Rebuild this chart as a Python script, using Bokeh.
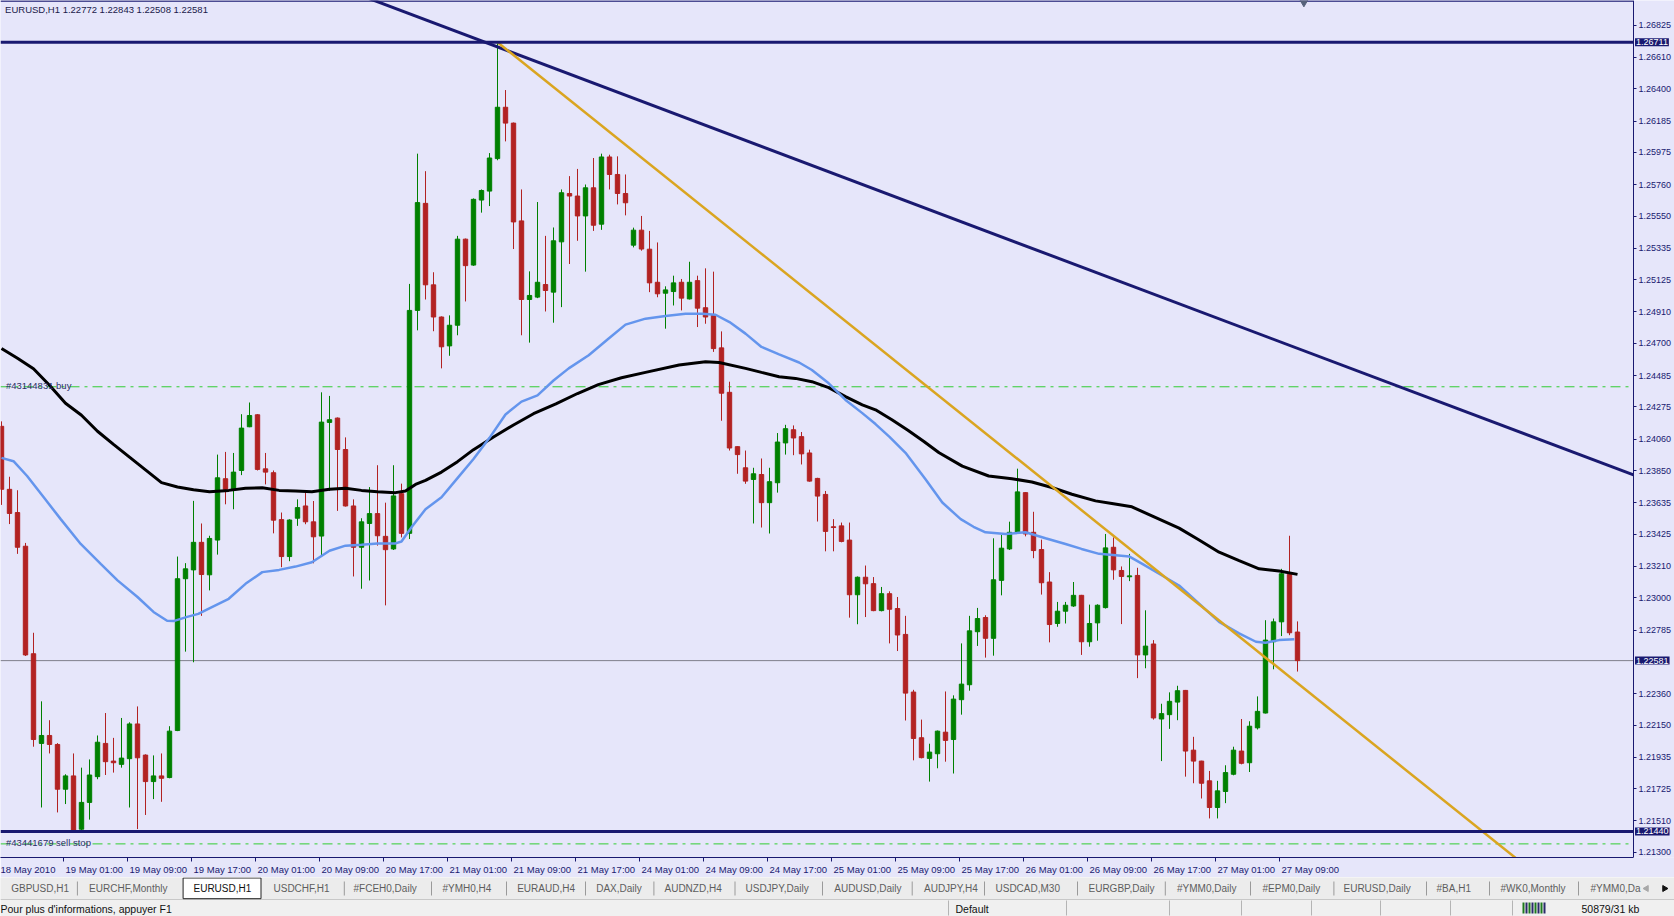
import math
from bokeh.plotting import figure
from bokeh.models import (Range1d, FixedTicker, NumeralTickFormatter, CustomJSTickFormatter,
                          Label, ColumnDataSource)
from bokeh.layouts import column
from bokeh.embed import file_html
from bokeh.resources import INLINE
from bokeh.core.properties import value

# ---------------- data ----------------
SYMBOL = "EURUSD,H1"

opens = [
    1.24146, 1.23725, 1.23570, 1.23345, 1.22627, 1.22028, 1.22081, 1.22021, 1.21722, 1.21811,
    1.21455, 1.21634, 1.21806, 1.22028, 1.21910, 1.21888, 1.21926, 1.22158, 1.21950, 1.21773,
    1.21811, 1.21800, 1.22114, 1.23128, 1.23187, 1.23371, 1.23154, 1.23386, 1.23796, 1.23725,
    1.23851, 1.24143, 1.24223, 1.23862, 1.23836, 1.23523, 1.23276, 1.23532, 1.23614, 1.23508,
    1.23413, 1.24172, 1.24201, 1.23991, 1.23614, 1.23338, 1.23497, 1.23563, 1.23411, 1.23327,
    1.23696, 1.23431, 1.24920, 1.25635, 1.25091, 1.24876, 1.24683, 1.24821, 1.25396, 1.25223,
    1.25657, 1.25717, 1.25934, 1.26277, 1.26171, 1.25518, 1.24993, 1.25009, 1.25093, 1.25042,
    1.25378, 1.25701, 1.25684, 1.25551, 1.25739, 1.25496, 1.25945, 1.25828, 1.25701, 1.25356,
    1.25456, 1.25329, 1.25108, 1.25035, 1.25046, 1.25108, 1.24997, 1.25119, 1.24938, 1.24887,
    1.24670, 1.24373, 1.24010, 1.23869, 1.23791, 1.23824, 1.23636, 1.23769, 1.24035, 1.24123,
    1.24077, 1.23968, 1.23798, 1.23691, 1.23475, 1.23481, 1.23386, 1.23021, 1.23138, 1.23095,
    1.22915, 1.23028, 1.22929, 1.22756, 1.22371, 1.22066, 1.21928, 1.21959, 1.22103, 1.22054,
    1.22320, 1.22420, 1.22774, 1.22869, 1.22730, 1.23117, 1.23327, 1.23438, 1.23703, 1.23438,
    1.23323, 1.23106, 1.22829, 1.22911, 1.22946, 1.23017, 1.22707, 1.22833, 1.22935, 1.23338,
    1.23183, 1.23141, 1.23150, 1.22619, 1.22692, 1.22191, 1.22220, 1.22304, 1.22382, 1.21983,
    1.21910, 1.21778, 1.21600, 1.21707, 1.21822, 1.21977, 1.21899, 1.22132, 1.22231, 1.22707,
    1.22840, 1.23157, 1.22772]

highs = [
    1.24179, 1.23809, 1.23719, 1.23367, 1.22767, 1.22309, 1.22183, 1.22030, 1.21822, 1.21961,
    1.21866, 1.21921, 1.22081, 1.22231, 1.22065, 1.22198, 1.22169, 1.22275, 1.21955, 1.21948,
    1.21961, 1.22143, 1.23276, 1.23232, 1.23648, 1.23497, 1.23415, 1.23957, 1.23975, 1.23968,
    1.24227, 1.24305, 1.24227, 1.23968, 1.23851, 1.23570, 1.23525, 1.23658, 1.23703, 1.23647,
    1.24373, 1.24349, 1.24205, 1.24072, 1.23658, 1.23532, 1.23740, 1.23886, 1.23636, 1.23886,
    1.23763, 1.25097, 1.25967, 1.25850, 1.25175, 1.24880, 1.24887, 1.25418, 1.25400, 1.25668,
    1.25728, 1.25971, 1.26711, 1.26392, 1.26175, 1.25728, 1.25181, 1.25644, 1.25418, 1.25474,
    1.25728, 1.25817, 1.25865, 1.25761, 1.25938, 1.25967, 1.25960, 1.25949, 1.25828, 1.25473,
    1.25551, 1.25451, 1.25374, 1.25081, 1.25152, 1.25130, 1.25245, 1.25152, 1.25201, 1.25179,
    1.24780, 1.24444, 1.24012, 1.23984, 1.23869, 1.23931, 1.23869, 1.24101, 1.24156, 1.24152,
    1.24108, 1.23990, 1.23802, 1.23714, 1.23526, 1.23503, 1.23503, 1.23143, 1.23216, 1.23139,
    1.23073, 1.23044, 1.23006, 1.22880, 1.22386, 1.22187, 1.22026, 1.22114, 1.22375, 1.22349,
    1.22696, 1.22880, 1.22933, 1.22884, 1.23398, 1.23420, 1.23509, 1.23863, 1.23706, 1.23575,
    1.23389, 1.23172, 1.22973, 1.22973, 1.23106, 1.23020, 1.22955, 1.22957, 1.23427, 1.23404,
    1.23210, 1.23294, 1.23201, 1.22917, 1.22718, 1.22293, 1.22369, 1.22413, 1.22385, 1.22072,
    1.21912, 1.21844, 1.21778, 1.21882, 1.22006, 1.22191, 1.22176, 1.22342, 1.22851, 1.22862,
    1.23194, 1.23415, 1.22843]

lows = [
    1.23621, 1.23493, 1.23294, 1.22612, 1.22006, 1.21600, 1.21961, 1.21567, 1.21623, 1.21440,
    1.21445, 1.21519, 1.21789, 1.21817, 1.21833, 1.21866, 1.21600, 1.21456, 1.21550, 1.21656,
    1.21638, 1.21795, 1.22110, 1.22641, 1.22570, 1.22880, 1.23050, 1.23289, 1.23625, 1.23592,
    1.23820, 1.24140, 1.23851, 1.23758, 1.23431, 1.23205, 1.23245, 1.23481, 1.23492, 1.23231,
    1.23282, 1.23714, 1.23581, 1.23610, 1.23143, 1.23061, 1.23116, 1.23349, 1.22950, 1.23320,
    1.23404, 1.23393, 1.24787, 1.24993, 1.24781, 1.24533, 1.24617, 1.24754, 1.24980, 1.25218,
    1.25573, 1.25617, 1.25923, 1.26049, 1.25330, 1.24754, 1.24705, 1.25002, 1.24913, 1.24838,
    1.24942, 1.25230, 1.25385, 1.25179, 1.25451, 1.25458, 1.25728, 1.25628, 1.25555, 1.25341,
    1.25319, 1.25042, 1.25008, 1.24798, 1.24953, 1.24920, 1.24993, 1.24809, 1.24831, 1.24643,
    1.24183, 1.23984, 1.23829, 1.23762, 1.23497, 1.23470, 1.23430, 1.23703, 1.23957, 1.23953,
    1.23891, 1.23776, 1.23510, 1.23311, 1.23311, 1.23371, 1.22868, 1.22824, 1.22872, 1.22911,
    1.22910, 1.22696, 1.22645, 1.22181, 1.21915, 1.21928, 1.21773, 1.21862, 1.21906, 1.21827,
    1.22220, 1.22380, 1.22679, 1.22601, 1.22614, 1.23017, 1.23320, 1.23427, 1.23411, 1.23265,
    1.23022, 1.22703, 1.22807, 1.22829, 1.22940, 1.22619, 1.22674, 1.22714, 1.22929, 1.23121,
    1.22825, 1.23112, 1.22464, 1.22530, 1.22187, 1.21910, 1.22125, 1.22183, 1.21806, 1.21762,
    1.21660, 1.21527, 1.21527, 1.21629, 1.21815, 1.21888, 1.21837, 1.22121, 1.22228, 1.22523,
    1.22745, 1.22751, 1.22508]

closes = [
    1.23725, 1.23564, 1.23338, 1.22619, 1.22054, 1.22081, 1.22021, 1.21722, 1.21811, 1.21450,
    1.21634, 1.21817, 1.22036, 1.21906, 1.21899, 1.21930, 1.22158, 1.21932, 1.21773, 1.21811,
    1.21795, 1.22110, 1.23128, 1.23194, 1.23371, 1.23156, 1.23397, 1.23802, 1.23725, 1.23840,
    1.24134, 1.24218, 1.23858, 1.23840, 1.23519, 1.23276, 1.23520, 1.23603, 1.23508, 1.23408,
    1.24174, 1.24190, 1.23991, 1.23614, 1.23338, 1.23508, 1.23563, 1.23415, 1.23322, 1.23681,
    1.23431, 1.24920, 1.25640, 1.25091, 1.24876, 1.24677, 1.24821, 1.25396, 1.25219, 1.25662,
    1.25721, 1.25938, 1.26277, 1.26171, 1.25511, 1.24993, 1.25020, 1.25108, 1.25053, 1.25385,
    1.25706, 1.25684, 1.25551, 1.25739, 1.25489, 1.25945, 1.25828, 1.25701, 1.25639, 1.25456,
    1.25330, 1.25104, 1.25031, 1.25057, 1.25104, 1.25002, 1.25108, 1.24935, 1.24876, 1.24665,
    1.24367, 1.24001, 1.23957, 1.23780, 1.23829, 1.23636, 1.23776, 1.24041, 1.24130, 1.24068,
    1.23962, 1.23780, 1.23680, 1.23444, 1.23470, 1.23377, 1.23021, 1.23138, 1.23094, 1.22915,
    1.23028, 1.22924, 1.22752, 1.22364, 1.22061, 1.21933, 1.21970, 1.22110, 1.22048, 1.22324,
    1.22424, 1.22780, 1.22862, 1.22730, 1.23121, 1.23332, 1.23438, 1.23708, 1.23427, 1.23316,
    1.23101, 1.22822, 1.22911, 1.22951, 1.23017, 1.22707, 1.22829, 1.22951, 1.23334, 1.23187,
    1.23143, 1.23147, 1.22619, 1.22678, 1.22198, 1.22227, 1.22309, 1.22380, 1.21977, 1.21910,
    1.21762, 1.21600, 1.21711, 1.21833, 1.21983, 1.21895, 1.22143, 1.22242, 1.22718, 1.22840,
    1.23161, 1.22767, 1.22581]

# moving averages (bar index, price)
ma_fast_bars = [0, 1.5, 3.2, 5.3, 7.4, 9.9, 12.4, 14.5, 17, 19, 20.7, 21.5, 23.2, 24.6, 26.3,
                28.4, 30.5, 32.6, 34.7, 36.75, 38.8, 41, 43, 45, 47, 49.25, 50, 51.3, 53, 55,
                57, 59, 61, 63, 65, 67, 69, 70.9, 73.4, 75.9, 78, 80.5, 83, 85.5, 87.6, 89.25,
                91, 93, 95, 97.2, 99.7, 101.3, 103.4, 105.5, 107.6, 109.25, 111, 113, 115.5,
                117.6, 119.9, 121.5, 123, 125.5, 128, 130.5, 133, 135, 137.2, 141, 142.6, 144.7,
                147.2, 149.7, 152.2, 154.7, 156.8, 158, 159.7, 161.6]
ma_fast_vals = [1.23935, 1.23913, 1.23814, 1.23670, 1.23526, 1.23360, 1.23227, 1.23117, 1.23006,
                1.22906, 1.22847, 1.22845, 1.22873, 1.22893, 1.22939, 1.22994, 1.23094, 1.23172,
                1.23187, 1.23209, 1.23238, 1.23315, 1.23349, 1.23355, 1.23364, 1.23364, 1.23377,
                1.23475, 1.23592, 1.23672, 1.23800, 1.23928, 1.24069, 1.24225, 1.24311, 1.24353,
                1.24452, 1.24533, 1.24621, 1.24732, 1.24825, 1.24865, 1.24882, 1.24898, 1.24898,
                1.24891, 1.24842, 1.24765, 1.24676, 1.24626, 1.24572, 1.24522, 1.24433, 1.24322,
                1.24234, 1.24161, 1.24075, 1.23969, 1.23792, 1.23637, 1.23526, 1.23475, 1.23438,
                1.23427, 1.23438, 1.23398, 1.23360, 1.23327, 1.23294, 1.23276, 1.23227, 1.23161,
                1.23083, 1.22962, 1.22840, 1.22763, 1.22707, 1.22701, 1.22718, 1.22723]

ma_slow_bars = [0, 2, 4, 6, 8, 10, 12, 14, 16, 18, 20, 22, 24, 26, 28.4, 30.5, 32.6, 34.7, 36.75,
                38.8, 41, 43, 45, 47, 49.25, 50.5, 51.75, 53, 55, 57, 59, 61.5, 64, 66.5, 69.3, 72,
                74.6, 77.5, 80.5, 84.7, 88, 89.7, 93, 95, 97.2, 99.25, 101.3, 103.4, 105.5, 107.6,
                109.25, 111.3, 113.3, 115.3, 117.2, 120.1, 123.4, 126.3, 128.8, 131.3, 133.8,
                136.75, 138.8, 141.3, 143.8, 147.2, 149.7, 152.2, 154.7, 157.2, 159.7, 162]
ma_slow_vals = [1.24666, 1.24600, 1.24530, 1.24420, 1.24300, 1.24220, 1.24113, 1.24025, 1.23940,
                1.23855, 1.23770, 1.23741, 1.23722, 1.23709, 1.23718, 1.23732, 1.23736, 1.23718,
                1.23714, 1.23709, 1.23725, 1.23732, 1.23718, 1.23709, 1.23703, 1.23714, 1.23758,
                1.23785, 1.23840, 1.23910, 1.23990, 1.24075, 1.24155, 1.24230, 1.24296, 1.24365,
                1.24424, 1.24470, 1.24506, 1.24555, 1.24577, 1.24572, 1.24533, 1.24506, 1.24477,
                1.24466, 1.24444, 1.24404, 1.24344, 1.24289, 1.24256, 1.24190, 1.24120, 1.24045,
                1.23969, 1.23880, 1.23814, 1.23796, 1.23774, 1.23737, 1.23692, 1.23648, 1.23630,
                1.23608, 1.23548, 1.23466, 1.23387, 1.23305, 1.23249, 1.23194, 1.23179, 1.23157]

# chart objects
hline_levels = [1.26711, 1.21440]
bid_price = 1.22581
order_levels = [1.24410, 1.21357]
order_labels = ["#43144831 buy", "#43441679 sell stop"]
navy_trend_bars = [46.6, 203.9]
navy_trend_prices = [1.26990, 1.23823]
gold_trend_bars = [62.0, 188.4]
gold_trend_prices = [1.26711, 1.21300]

time_label_bars = [0, 8, 16, 24, 32, 40, 48, 56, 64, 72, 80, 88, 96, 104, 112, 120, 128, 136, 144, 152, 160]
time_labels = ["18 May 2010", "19 May 01:00", "19 May 09:00", "19 May 17:00", "20 May 01:00",
               "20 May 09:00", "20 May 17:00", "21 May 01:00", "21 May 09:00", "21 May 17:00",
               "24 May 01:00", "24 May 09:00", "24 May 17:00", "25 May 01:00", "25 May 09:00",
               "25 May 17:00", "26 May 01:00", "26 May 09:00", "26 May 17:00", "27 May 01:00",
               "27 May 09:00"]
price_ticks = [1.26825, 1.26610, 1.26400, 1.26185, 1.25975, 1.25760, 1.25550, 1.25335, 1.25125,
               1.24910, 1.24700, 1.24485, 1.24275, 1.24060, 1.23850, 1.23635, 1.23425, 1.23210,
               1.23000, 1.22785, 1.22360, 1.22150, 1.21935, 1.21725, 1.21510, 1.21300]

tab_labels = ["GBPUSD,H1", "EURCHF,Monthly", "EURUSD,H1", "USDCHF,H1", "#FCEH0,Daily", "#YMH0,H4",
              "EURAUD,H4", "DAX,Daily", "AUDNZD,H4", "USDJPY,Daily", "AUDUSD,Daily", "AUDJPY,H4",
              "USDCAD,M30", "EURGBP,Daily", "#YMM0,Daily", "#EPM0,Daily", "EURUSD,Daily", "#BA,H1",
              "#WK0,Monthly", "#YMM0,Da"]
active_tab = 2
status_hint = "Pour plus d'informations, appuyer F1"
status_profile = "Default"
status_traffic = "50879/31 kb"

# ---------------- layout / style ----------------
W, H = 1674, 916
MAIN_H = 877
FONT = "Liberation Sans"
NAVY = "#191970"
BG = "#E6E6FA"
BULL, BEAR = "#008000", "#B22222"
X0, X1 = -0.125, 209.125      # full canvas width, 8 px per bar
EDGE = 204.0                  # chart edge where the price scale sits
Y0, Y1 = 1.21266, 1.26990

p = figure(width=W, height=MAIN_H, x_range=Range1d(X0, X1), y_range=Range1d(Y0, Y1),
           y_axis_location="right", toolbar_location=None, output_backend="svg",
           min_border_left=0, min_border_top=0, min_border_right=0, min_border_bottom=15,
           background_fill_color=BG, border_fill_color=BG, outline_line_color=None)
p.grid.visible = False

# price scale, drawn at the chart edge
ya = p.yaxis[0]
ya.fixed_location = EDGE
ya.ticker = FixedTicker(ticks=price_ticks)
ya.formatter = NumeralTickFormatter(format="0.00000")
ya.axis_line_color = NAVY
ya.major_tick_line_color = NAVY
ya.major_tick_out = 3
ya.major_tick_in = 0
ya.minor_tick_line_color = None
ya.major_label_standoff = 2
ya.major_label_text_font = FONT
ya.major_label_text_font_size = "9px"
ya.major_label_text_color = NAVY

# time scale (labels to the right of their tick marks, like the terminal)
xa = p.xaxis[0]
xa.bounds = (X0, EDGE)
label_pos = [b + (3.2 if k == 0 else 3.6) for k, b in enumerate(time_label_bars)]
xa.ticker = FixedTicker(ticks=label_pos, minor_ticks=[b - 0.2 for b in time_label_bars])
xa.formatter = CustomJSTickFormatter(args=dict(labels=time_labels),
                                     code="return labels[Math.floor(tick / 8)];")
xa.axis_line_color = NAVY
xa.major_tick_line_color = None
xa.major_tick_out = 0
xa.major_tick_in = 0
xa.minor_tick_line_color = NAVY
xa.minor_tick_out = 4
xa.minor_tick_in = 0
xa.major_label_standoff = 2
xa.major_label_text_font = FONT
xa.major_label_text_font_size = "9.5px"
xa.major_label_text_color = NAVY

# top border of the chart
p.line([X0, EDGE], [Y1 - 0.00004, Y1 - 0.00004], line_color=NAVY, line_width=1.5)

# horizontal levels drawn behind
n = len(opens)
xs = list(range(n))
p.line([X0, EDGE], [bid_price, bid_price], line_color="#7F7F8C", line_width=1)
for lvl in order_levels:
    p.line([X0, EDGE - 0.3], [lvl, lvl], line_color="#32CD32", line_width=1, line_dash="10 5 3 5")

# candles
src = ColumnDataSource(dict(
    x=xs, o=opens, h=highs, l=lows, c=closes,
    top=[max(a, b) for a, b in zip(opens, closes)],
    bot=[min(a, b) for a, b in zip(opens, closes)],
    col=[BULL if c >= o else BEAR for o, c in zip(opens, closes)]))
p.segment(x0="x", y0="h", x1="x", y1="l", source=src, line_color="col", line_width=1)
p.vbar(x="x", width=0.55, top="top", bottom="bot", source=src, fill_color="col", line_color="col",
       line_width=1)

# moving averages
p.line(ma_slow_bars, ma_slow_vals, line_color="black", line_width=3)
p.line(ma_fast_bars, ma_fast_vals, line_color="#6495ED", line_width=2.5)

# trend lines (rays, cut at the chart edge)
def ray(bars, prices, x_from, x_to):
    s = (prices[1] - prices[0]) / (bars[1] - bars[0])
    return [x_from, x_to], [prices[0] + s * (x_from - bars[0]), prices[0] + s * (x_to - bars[0])]

nx, ny = ray(navy_trend_bars, navy_trend_prices, navy_trend_bars[0] - 3, EDGE)
p.line(nx, ny, line_color=NAVY, line_width=3)
gx, gy = ray(gold_trend_bars, gold_trend_prices, gold_trend_bars[0], 195)
p.line(gx, gy, line_color="#DAA520", line_width=2.5)

for lvl in hline_levels:
    p.line([X0, EDGE], [lvl, lvl], line_color=NAVY, line_width=3)

# shift marker at top
p.scatter([162.8], [Y1], marker="inverted_triangle", size=11, fill_color="#56627A",
          line_color="#56627A")

# order labels
for lvl, txt in zip(order_levels, order_labels):
    p.add_layout(Label(x=0.55, y=lvl, text=txt, text_font=FONT, text_font_size="9.5px",
                       text_color="#2A2F66", text_baseline="alphabetic", y_offset=1))

# header text
hdr = f"{SYMBOL}  {opens[-1]:.5f} {highs[-1]:.5f} {lows[-1]:.5f} {closes[-1]:.5f}"
p.add_layout(Label(x=0.45, y=1.26933, text=hdr, text_font=FONT, text_font_size="9.5px",
                   text_color="#1A1A4A", text_baseline="middle"))

# highlighted prices on the price scale
for lvl in [hline_levels[0], bid_price, hline_levels[1]]:
    p.add_layout(Label(x=EDGE + 0.19, y=lvl, text=f"{lvl:.5f}", text_font=FONT,
                       text_font_size="9px", text_color="white", text_baseline="middle",
                       text_align="left", background_fill_color=NAVY, padding=1))

# ---------------- tab bar + status bar ----------------
b = figure(width=W, height=H - MAIN_H, x_range=Range1d(0, 1674), y_range=Range1d(0, 39),
           toolbar_location=None, output_backend="svg", x_axis_type=None, y_axis_type=None,
           min_border=0, outline_line_color=None,
           background_fill_color="#F0F0F0", border_fill_color="#F0F0F0")
b.grid.visible = False

tab_x = [10.7, 88.6, 193, 273, 353, 442, 516.7, 595.7, 664, 745, 833.8, 923.5, 995, 1088, 1176.5,
         1262, 1343, 1436, 1500, 1590]
tab_seps = [76.9, 343.8, 431, 506, 585, 653.4, 734.5, 822, 911.7, 984, 1077, 1164.8, 1250,
            1333.4, 1426, 1489, 1578]
b.quad(left=[0], right=[1674], bottom=[17], top=[39], fill_color="#ECECEC", line_color=None)
b.line([0, 1674], [17, 17], line_color="#C8C8C8", line_width=1)
b.quad(left=[182.6], right=[260.5], bottom=[17.8], top=[38.5], fill_color="white",
       line_color="#222222", line_width=1)
b.segment(x0=tab_seps, y0=[21] * len(tab_seps), x1=tab_seps, y1=[35] * len(tab_seps),
          line_color="#9A9A9A", line_width=1)
tcol = ["#111111" if i == active_tab else "#5E5E5E" for i in range(len(tab_labels))]
b.text(x=tab_x, y=[28] * len(tab_x), text=tab_labels, text_font=value(FONT),
       text_font_size="10px", text_baseline="middle", text_color=tcol)
b.scatter([1646], [28], marker="triangle", angle=math.pi / 2, size=6, fill_color="#A8A8A8",
          line_color="#A8A8A8")
b.scatter([1664], [28], marker="triangle", angle=-math.pi / 2, size=6, fill_color="#111111",
          line_color="#111111")

st_seps = [948, 1066, 1169, 1241, 1311, 1380, 1450, 1512]
b.segment(x0=st_seps, y0=[1] * len(st_seps), x1=st_seps, y1=[16] * len(st_seps),
          line_color="#B4B4B4", line_width=1)
b.text(x=[0, 955, 1581], y=[8, 8, 8], text=[status_hint, status_profile, status_traffic],
       text_font=value(FONT), text_font_size="10.5px", text_baseline="middle", text_color="#111111")
icon_x = [1523, 1526, 1529, 1532, 1535, 1538, 1541, 1544]
b.segment(x0=icon_x, y0=[3] * 8, x1=icon_x, y1=[14] * 8,
          line_color=["#1E7A1E", "#2A2A6A"] * 4, line_width=2)

layout = column(p, b)
open("out.html", "w").write(file_html(layout, INLINE))
